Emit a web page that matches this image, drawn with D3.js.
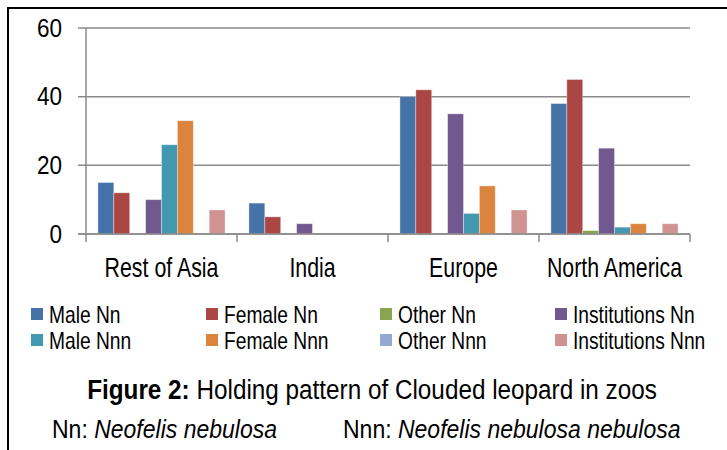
<html>
<head>
<script src="https://d3js.org/d3.v7.min.js"></script>
<style>
  body { margin: 0; background: #fff; }
  svg text { font-family: "Liberation Sans", Arial, sans-serif; fill: #000; }
</style>
</head>
<body>
<div id="chart"></div>
<script>
// data
var regions = ["Rest of Asia", "India", "Europe", "North America"];
var seriesNames = ["Male Nn", "Female Nn", "Other Nn", "Institutions Nn",
                   "Male Nnn", "Female Nnn", "Other Nnn", "Institutions Nnn"];
var maleNn         = [15,  9, 40, 38];
var femaleNn       = [12,  5, 42, 45];
var otherNn        = [ 0,  0,  0,  1];
var institutionsNn = [10,  3, 35, 25];
var maleNnn        = [26,  0,  6,  2];
var femaleNnn      = [33,  0, 14,  3];
var otherNnn       = [ 0,  0,  0,  0];
var institutionsNnn= [ 7,  0,  7,  3];
var yTicks = [0, 20, 40, 60];
var colors = ["#4572A7", "#AA4643", "#89A54E", "#71588F",
              "#4198AF", "#DB843D", "#93A9CF", "#D19392"];

var allSeries = [maleNn, femaleNn, otherNn, institutionsNn,
                 maleNnn, femaleNnn, otherNnn, institutionsNnn];

var W = 727, H = 450;
var svg = d3.select("#chart").append("svg")
    .attr("width", W).attr("height", H);

// squeezed text helper (the figure uses a narrow face)
function label(txt, x, y, size, sx, anchor, weight) {
    return svg.append("text")
        .attr("transform", "translate(" + x + "," + y + ") scale(" + sx + ",1)")
        .attr("text-anchor", anchor || "start")
        .style("font-size", size + "px")
        .style("font-weight", weight || "normal")
        .text(txt);
}

// frame (top + left)
svg.append("path")
    .attr("d", "M8,450 L8,8 L727,8")
    .attr("fill", "none").attr("stroke", "#000").attr("stroke-width", 2);

var x0 = d3.scaleBand().domain(regions).range([86, 690]).padding(0);
var bw = x0.bandwidth();
var gap = bw * 0.75 / 9.5;
var x1 = d3.scaleBand().domain(seriesNames).range([gap, bw - gap]).padding(0);
var y = d3.scaleLinear().domain([0, 60]).range([234, 28]);

var grid = "#8a8a8a";

// gridlines + y ticks
svg.append("g").selectAll("line").data(yTicks).enter().append("line")
    .attr("x1", 78).attr("x2", 690)
    .attr("y1", function(d) { return y(d); })
    .attr("y2", function(d) { return y(d); })
    .attr("stroke", grid).attr("stroke-width", 1.5);

yTicks.forEach(function(t) {
    label(t, 62, y(t) + 8.5, 25, 0.9, "end");
});

// bars
var groups = svg.append("g").selectAll("g").data(regions).enter().append("g")
    .attr("transform", function(d) { return "translate(" + x0(d) + ",0)"; });

groups.selectAll("rect")
    .data(function(r, i) {
        return seriesNames.map(function(s, j) {
            return { s: s, v: allSeries[j][i], c: colors[j] };
        });
    })
    .enter().append("rect")
    .filter(function(d) { return d.v > 0; })
    .attr("x", function(d) { return x1(d.s); })
    .attr("y", function(d) { return y(d.v); })
    .attr("width", x1.bandwidth())
    .attr("height", function(d) { return y(0) - y(d.v); })
    .attr("fill", function(d) { return d.c; })
    .attr("stroke", "#ffffff").attr("stroke-opacity", 0.45).attr("stroke-width", 0.8);

// axes
svg.append("line").attr("x1", 86).attr("x2", 86).attr("y1", 28).attr("y2", 242)
    .attr("stroke", grid).attr("stroke-width", 1.5);
svg.append("line").attr("x1", 78).attr("x2", 690).attr("y1", y(0)).attr("y2", y(0))
    .attr("stroke", grid).attr("stroke-width", 1.5);
regions.forEach(function(r) {
    var xe = x0(r) + bw;
    svg.append("line").attr("x1", xe).attr("x2", xe).attr("y1", y(0)).attr("y2", 242)
        .attr("stroke", grid).attr("stroke-width", 1.5);
});

// category labels
regions.forEach(function(r) {
    label(r, x0(r) + bw / 2, 277, 27, 0.79, "middle");
});

// legend
var legX = [31, 206, 380, 555];
var legY = [321, 347];
seriesNames.forEach(function(s, i) {
    var cx = legX[i % 4], cy = legY[Math.floor(i / 4)];
    svg.append("rect").attr("x", cx).attr("y", cy - 13).attr("width", 12).attr("height", 12)
        .attr("fill", colors[i]);
    label(s, cx + 18, cy + 2, 24, 0.8, "start");
});

// caption
var cap = svg.append("text")
    .attr("transform", "translate(372,399) scale(0.9,1)")
    .attr("text-anchor", "middle")
    .style("font-size", "27px");
cap.append("tspan").style("font-weight", "bold").text("Figure 2:");
cap.append("tspan").text(" Holding pattern of Clouded leopard in zoos");

var sub1 = svg.append("text")
    .attr("transform", "translate(52,438) scale(0.92,1)")
    .style("font-size", "25px");
sub1.append("tspan").text("Nn: ");
sub1.append("tspan").style("font-style", "italic").text("Neofelis nebulosa");

var sub2 = svg.append("text")
    .attr("transform", "translate(343,438) scale(0.92,1)")
    .style("font-size", "25px");
sub2.append("tspan").text("Nnn: ");
sub2.append("tspan").style("font-style", "italic").text("Neofelis nebulosa nebulosa");
</script>
</body>
</html>
